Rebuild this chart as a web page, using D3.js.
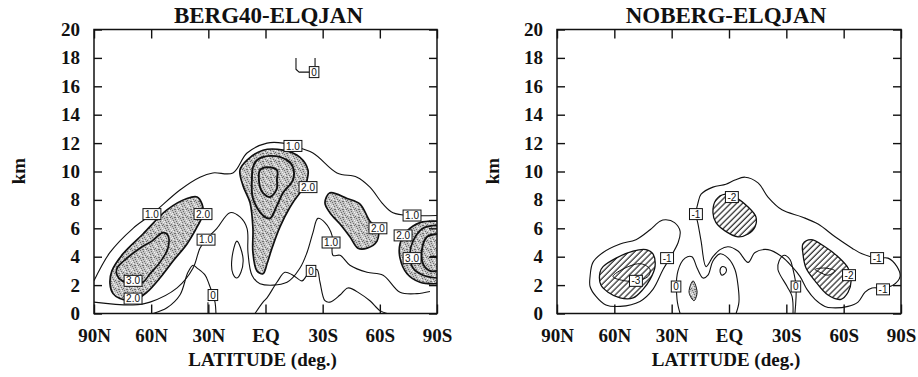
<!DOCTYPE html>
<html>
<head>
<meta charset="utf-8">
<script src="https://cdn.jsdelivr.net/npm/d3@7"></script>
<style>
  body { margin: 0; background: #fff; }
  svg { display: block; }
  .ttl { font-family: 'Liberation Serif', 'Times New Roman', serif; font-weight: bold; }
  .lbl text { font-family: 'Liberation Sans', Arial, sans-serif; font-size: 10px; }
</style>
</head>
<body>
<div id="mainDiv"></div>
<script>
// axis ticks
var latTicks = [90, 60, 30, 0, -30, -60, -90],
    latTickLabels = ['90N', '60N', '30N', 'EQ', '30S', '60S', '90S'],
    kmTicks = [0, 2, 4, 6, 8, 10, 12, 14, 16, 18, 20];

// ---- BERG40-ELQJAN contours, points are [lat (N +), km] ----
var bergUpper10 = [[90,2.3],[81.6,4.3],[69.5,6.0],[59.6,7.0],[44.9,8.7],[34.4,9.6],[27.6,9.9],[17.1,9.9],[9.7,11.3],[-0.8,12.0],[-9.2,12.0],[-14.4,11.8],[-24.9,11.3],[-37.5,9.9],[-48,9.6],[-54.8,8.9],[-61.7,7.7],[-66.9,7.1],[-76.9,6.9],[-90,6.9]];
var bergLower10 = [[90,0.8],[69.5,0.6],[60.6,0.8],[46.4,1.8],[38,3.2],[34.4,4.6],[31.2,5.2],[25.5,6.0],[18.6,7.1],[13.4,6.8],[9.7,6.0],[9.2,4.3],[7.1,2.7],[2.9,2.1],[-11.3,2.2],[-18.1,3.2],[-21.8,4.3],[-24.9,5.7],[-27.5,6.7],[-31.2,6.4],[-34.9,5.5],[-35.4,4.1],[-39.1,4.1],[-44.3,3.4],[-53.3,2.9],[-61.7,2.7],[-70.6,1.5],[-79.5,1.4],[-86.3,1.55]];
var bergDrop10 = [[15,5.1],[11.8,3.9],[12.9,2.9],[15,2.5],[17.1,2.8],[17.6,3.9]];
var bergZeroA = [[59,0],[51.7,0.4],[44.9,1.3],[40.7,2.9],[38,3.4],[35.9,3.2],[31.7,2.7],[29.7,2.1],[27.6,1.3],[26.5,0.8],[26,0]];
var bergZeroStub = [[30.2,0.8],[30.2,0]];
var bergZeroB = [[5.5,0],[1.3,0.8],[-0.8,1.1],[-6,2.2],[-10.2,2.9],[-14.4,2.7],[-19.2,2.3],[-21.8,2.7],[-23.9,2.9],[-27,3.1],[-28.6,2.2],[-31.2,0.9],[-33.8,0.8],[-39.1,1.3],[-43.3,1.8],[-49.6,1.4],[-54.8,0.9],[-60.1,0.2],[-63.8,0]];
var bergZeroTop = [[-16,18.0],[-16,17.2],[-17.6,17.0],[-23.4,17.0]];
var bergZeroTopStub = [[-26,18.0],[-26,17.4]];
var bergShadeNH = [[81.6,2.1],[80.6,3.0],[74.8,4.2],[64.3,5.6],[51.7,7.3],[41.2,8.1],[35.9,8.2],[33.3,7.7],[32.8,7.0],[35.9,6.1],[41.2,4.9],[48.5,3.7],[55.4,2.5],[62.2,1.5],[69.5,0.9],[76.4,1.05],[80,1.4]];
var bergCoreNH = [[77.9,3.2],[72.7,3.9],[65.9,4.6],[59.6,5.1],[53.8,5.7],[51.2,5.5],[51.2,4.6],[55.4,3.6],[60.6,2.8],[64.3,2.2],[69.5,2.1],[75.3,2.3],[77.9,2.7]];
var bergShadeEQ = [[1.3,11.5],[-9.2,11.5],[-18.1,11.0],[-22.3,10.1],[-21.8,9.4],[-20.7,8.9],[-18.1,8.5],[-12.9,7.5],[-7.6,6.1],[-3.4,4.6],[-0.8,3.5],[1.3,2.8],[4.5,3.0],[6.6,4.3],[6.6,6.0],[8.1,7.8],[11.8,9.0],[13.4,10.1],[9.7,10.8]];
var bergCoreEQ = [[6.6,10.3],[7.1,9.6],[6.6,8.1],[1.3,6.9],[-2.4,6.7],[-6,7.6],[-9.2,8.5],[-14.4,9.4],[-14.4,10.3],[-11.3,10.8],[-2.4,11.1],[4.5,10.8]];
var bergPeakEQ = [[2.9,10.1],[2.9,8.9],[1.3,8.5],[-2.4,8.2],[-6,8.8],[-6,9.4],[-6,10.1],[-0.8,10.3]];
var bergShadeSH = [[-31.2,7.8],[-33.8,8.5],[-42.8,8.1],[-49.6,7.7],[-54.8,6.5],[-59,6.0],[-58.5,5.1],[-53.3,4.6],[-48.5,4.6],[-44.3,5.4],[-39.1,6.3],[-33.8,7.1]];
var bergShadePole = [[-90,6.5],[-81.1,6.4],[-74.3,5.8],[-70.6,4.9],[-70.6,3.9],[-74.3,2.8],[-81.1,2.2],[-90,2.1]];
var bergCorePole = [[-90,6.2],[-82.7,6.0],[-77.4,5.1],[-75.8,4.2],[-77.4,3.2],[-82.7,2.7],[-90,2.5]];
var bergPeakPole = [[-90,5.6],[-84.8,5.4],[-82.1,4.5],[-82.7,3.5],[-86.3,3.0],[-90,3.0]];
var bergPoleStub = [[-86.3,4.0],[-90,4.0]];
var bergLabels = [['1.0',59.6,7.0],['1.0',-14.4,11.8],['1.0',-76.9,6.9],['1.0',31.2,5.2],['1.0',-34.4,5.0],
                  ['2.0',32.8,7.0],['2.0',69.5,1.05],['2.0',-22.3,8.9],['2.0',-59,6.0],['2.0',-72.2,5.5],
                  ['3.0',69.5,2.3],['3.0',-76.9,3.9],
                  ['0',27.6,1.3],['0',-23.9,3.0],['0',-25.5,17.0]];

// ---- NOBERG-ELQJAN contours ----
var nobLoopNH = [[72.7,2.6],[71.2,3.6],[65.9,4.3],[57.0,4.9],[48.7,5.2],[41.3,5.9],[36.1,6.5],[33,6.6],[28.5,6.4],[25.6,5.8],[26.6,5.0],[31.4,3.8],[34.5,3.1],[39.8,1.7],[46.6,0.85],[57.0,0.5],[64.4,0.6],[69.6,1.2],[72.7,1.9]];
var nobHatchNH = [[67.5,2.9],[65.9,3.3],[59.1,3.9],[50.2,4.4],[43.4,4.5],[39.8,4.2],[38.7,3.3],[41.3,2.4],[45,1.7],[50.2,1.1],[57,1.1],[63.3,1.5],[67,2.0]];
var nobCoreNH = [[60.7,2.6],[54.4,3.2],[46,3.5],[41.3,3.1],[42.4,2.6],[48.7,2.3],[54.4,2.3]];
var nobLoopBig = [[12.0,3.3],[14.6,5.1],[16.2,6.3],[17.3,7.0],[16.2,7.8],[14.6,8.4],[8.4,8.9],[1.6,9.1],[-3.1,9.4],[-8.4,9.6],[-15.2,9.2],[-20.4,8.2],[-27.7,7.3],[-38.2,6.8],[-46.6,6.3],[-55.5,5.4],[-64.4,4.6],[-69.6,4.2],[-77.5,3.9],[-83.2,3.9],[-87.9,3.3],[-89.5,2.6],[-85.8,2.0],[-80.1,1.8],[-74.8,1.8],[-71.2,1.5],[-67.5,0.8],[-62.3,0.5],[-53.9,0.4],[-50.2,0.5],[-45,1.0],[-40.8,1.7],[-37.2,2.6],[-33,3.3],[-27.7,4.0],[-20.4,4.5],[-13.6,4.3],[-10,3.6],[-4.7,4.4],[0.5,4.7],[4.7,4.5],[8.4,4.0]];
var nobHatchEQ = [[8.4,7.1],[6.8,8.0],[1.9,8.4],[-3.1,8.2],[-10,7.5],[-14.1,6.8],[-13.6,6.1],[-10,5.6],[-4.7,5.4],[1.9,5.8],[6.8,6.4]];
var nobHatchSH = [[-38.7,4.9],[-42.9,5.2],[-50.2,4.7],[-57,4.0],[-62.3,3.2],[-63.9,2.3],[-62.3,1.5],[-58.6,1.0],[-51.8,1.3],[-45,2.3],[-40.3,3.2],[-38.7,4.2]];
var nobCoreSH = [[-45,3.1],[-50.2,3.2],[-55.5,3.0],[-51.8,2.7],[-47.6,2.9]];
var nobZeroA = [[25.6,0],[27.2,1.0],[26.7,3.0],[23.0,3.9],[19.4,4.0],[16.7,3.2],[13.6,2.5],[11.0,2.7],[8.4,3.7],[4.7,4.2],[0.5,3.9],[-3.1,3.1],[-4.7,2.0],[-5.2,0.8],[-3.7,0]];
var nobZeroDot = [[4.7,3.0],[3.7,3.3],[1.6,3.2],[1.6,2.9],[3.7,2.7]];
var nobStipple = [[18.8,2.3],[16.7,1.5],[18.3,0.9],[20.9,1.5]];
var nobZeroB = [[-33.5,0],[-33,1.2],[-30.4,1.9],[-25.6,3.1],[-26.2,3.7],[-28.8,4.1],[-31.9,3.8],[-33.5,3.1],[-35.1,1.9],[-34.5,0]];
var nobLabels = [['-1',32.4,3.9],['-3',48.7,2.3],['0',27.7,1.9],['-1',17.3,7.0],['-2',-1.5,8.2],
                 ['0',-35,1.9],['-2',-62.8,2.7],['-1',-77.5,3.9],['-1',-80.6,1.7]];

var W = 918, H = 377;
var svg = d3.select('#mainDiv').append('svg').attr('width', W).attr('height', H);
var defs = svg.append('defs');

// speckled stipple for positive shading (fixed dot layout in an 8x8 tile)
var stipDots = [[0,0],[3,0],[6,1],[1,2],[4,2],[7,3],[2,4],[5,4],[0,5],[3,6],[6,6],[1,7],[5,7],[7,1],[2,1],[4,5]];
var stip = defs.append('pattern').attr('id', 'stip').attr('patternUnits', 'userSpaceOnUse')
    .attr('width', 8).attr('height', 8);
stip.append('rect').attr('width', 8).attr('height', 8).attr('fill', '#c4c4c4');
stip.selectAll('rect.dot').data(stipDots).enter().append('rect')
    .attr('class', 'dot')
    .attr('x', function (d) { return d[0]; }).attr('y', function (d) { return d[1]; })
    .attr('width', 1).attr('height', 1)
    .attr('fill', function (d, i) { return i % 3 ? '#6e6e6e' : '#f2f2f2'; });

// hatching for negative shading
var hatch = defs.append('pattern').attr('id', 'hatch').attr('patternUnits', 'userSpaceOnUse')
    .attr('width', 4.2).attr('height', 4.2).attr('patternTransform', 'rotate(45)');
hatch.append('line').attr('x1', 1).attr('y1', 0).attr('x2', 1).attr('y2', 4.2)
    .attr('stroke', '#111').attr('stroke-width', 1.1);

var panels = [
    { id: 'berg', title: 'BERG40-ELQJAN', x0: 94, x1: 437, kmX: 18, titleDx: 3,
      fills: [[bergShadeNH, 'stip'], [bergShadeEQ, 'stip'], [bergShadeSH, 'stip'], [bergShadePole, 'stip']],
      lines: [[bergUpper10, 0, 1.1], [bergLower10, 0, 1.1], [bergDrop10, 1, 1.1],
              [bergZeroA, 0, 1.1], [bergZeroStub, 0, 1.1], [bergZeroB, 0, 1.1], [bergZeroTop, 0, 1.1, 'lin'], [bergZeroTopStub, 0, 1.1, 'lin'],
              [bergShadeNH, 1, 1.7], [bergCoreNH, 1, 1.7], [bergShadeEQ, 1, 1.7], [bergCoreEQ, 1, 1.9], [bergPeakEQ, 1, 1.9],
              [bergShadeSH, 1, 1.7], [bergShadePole, 0, 1.7], [bergCorePole, 0, 1.7], [bergPeakPole, 0, 1.9], [bergPoleStub, 0, 2]],
      labels: bergLabels },
    { id: 'nob', title: 'NOBERG-ELQJAN', x0: 557, x1: 901, kmX: 492, titleDx: -3,
      fills: [[nobHatchNH, 'hatch'], [nobHatchEQ, 'hatch'], [nobHatchSH, 'hatch'], [nobStipple, 'stip']],
      lines: [[nobLoopNH, 1, 1.1], [nobLoopBig, 1, 1.1], [nobZeroA, 0, 1.1], [nobZeroDot, 1, 1.1], [nobZeroB, 0, 1.1],
              [nobHatchNH, 1, 1.3], [nobCoreNH, 1, 1], [nobHatchEQ, 1, 1.3], [nobHatchSH, 1, 1.3], [nobCoreSH, 1, 1],
              [nobStipple, 1, 1]],
      labels: nobLabels }
];

var yTop = 29.5, yBot = 313.5;

panels.forEach(function (p) {
    var x = d3.scaleLinear().domain([90, -90]).range([p.x0, p.x1]),
        y = d3.scaleLinear().domain([0, 20]).range([yBot, yTop]);
    var lineOpen = d3.line().x(function (d) { return x(d[0]); }).y(function (d) { return y(d[1]); })
            .curve(d3.curveCatmullRom.alpha(0.5)),
        lineClosed = d3.line().x(function (d) { return x(d[0]); }).y(function (d) { return y(d[1]); })
            .curve(d3.curveCatmullRomClosed.alpha(0.5)),
        lineLin = d3.line().x(function (d) { return x(d[0]); }).y(function (d) { return y(d[1]); });

    defs.append('clipPath').attr('id', p.id + '_clip')
        .append('rect').attr('x', p.x0).attr('y', yTop).attr('width', p.x1 - p.x0).attr('height', yBot - yTop);

    var g = svg.append('g').attr('id', p.id + '_grp');
    var plot = g.append('g').attr('clip-path', 'url(#' + p.id + '_clip)');

    plot.selectAll('path.fill').data(p.fills).enter().append('path')
        .attr('class', 'fill')
        .attr('d', function (d) { return lineClosed(d[0]); })
        .attr('fill', function (d) { return 'url(#' + d[1] + ')'; })
        .attr('stroke', 'none');

    plot.selectAll('path.cont').data(p.lines).enter().append('path')
        .attr('class', 'cont')
        .attr('d', function (d) {
            if (d[3] === 'lin') { return lineLin(d[0]); }
            return d[1] ? lineClosed(d[0]) : lineOpen(d[0]);
        })
        .attr('fill', 'none')
        .attr('stroke', '#111')
        .attr('stroke-width', function (d) { return d[2]; })
        .attr('stroke-linejoin', 'round');

    // contour labels
    var lab = plot.selectAll('g.lbl').data(p.labels).enter().append('g')
        .attr('class', 'lbl')
        .attr('transform', function (d) { return 'translate(' + x(d[1]) + ',' + y(d[2]) + ')'; });
    lab.append('rect');
    lab.append('text')
        .attr('text-anchor', 'middle')
        .attr('dy', '0.36em')
        .attr('fill', '#111')
        .text(function (d) { return d[0]; });
    lab.each(function () {
        var gg = d3.select(this),
            w = gg.select('text').node().getComputedTextLength() + 4;
        gg.select('rect').attr('x', -w / 2).attr('y', -5.5).attr('width', w).attr('height', 11)
            .attr('fill', '#fff').attr('stroke', '#111').attr('stroke-width', 1);
    });

    // frame
    g.append('rect').attr('x', p.x0).attr('y', yTop).attr('width', p.x1 - p.x0).attr('height', yBot - yTop)
        .attr('fill', 'none').attr('stroke', '#111').attr('stroke-width', 1.5);

    // axes with inward ticks
    var bottom = g.append('g').attr('transform', 'translate(0,' + yBot + ')')
        .call(d3.axisBottom(x).tickValues(latTicks).tickSize(-9).tickPadding(15)
            .tickFormat(function (d, i) { return latTickLabels[i]; }));
    var top = g.append('g').attr('transform', 'translate(0,' + yTop + ')')
        .call(d3.axisTop(x).tickValues(latTicks).tickSize(-9).tickFormat(''));
    var left = g.append('g').attr('transform', 'translate(' + p.x0 + ',0)')
        .call(d3.axisLeft(y).tickValues(kmTicks).tickSize(-8).tickPadding(14).tickFormat(d3.format('d')));
    var right = g.append('g').attr('transform', 'translate(' + p.x1 + ',0)')
        .call(d3.axisRight(y).tickValues(kmTicks).tickSize(-8).tickFormat(''));

    [bottom, top, left, right].forEach(function (a) {
        a.select('.domain').remove();
        a.selectAll('.tick line').attr('stroke', '#111').attr('stroke-width', 1.4);
        a.selectAll('text').attr('class', 'ttl').attr('font-size', 19).attr('fill', '#111');
    });

    // titles
    var cx = (p.x0 + p.x1) / 2;
    g.append('text').attr('class', 'ttl').attr('x', cx + p.titleDx).attr('y', 23)
        .attr('text-anchor', 'middle').attr('font-size', 23).attr('fill', '#111').text(p.title);
    g.append('text').attr('class', 'ttl').attr('x', cx - 3).attr('y', 366)
        .attr('text-anchor', 'middle').attr('font-size', 19).attr('fill', '#111').text('LATITUDE (deg.)');
    g.append('text').attr('class', 'ttl')
        .attr('transform', 'translate(' + p.kmX + ',' + 171 + ') rotate(-90)')
        .attr('text-anchor', 'middle').attr('dy', '0.35em').attr('font-size', 19).attr('fill', '#111').text('km');
});
</script>
</body>
</html>
